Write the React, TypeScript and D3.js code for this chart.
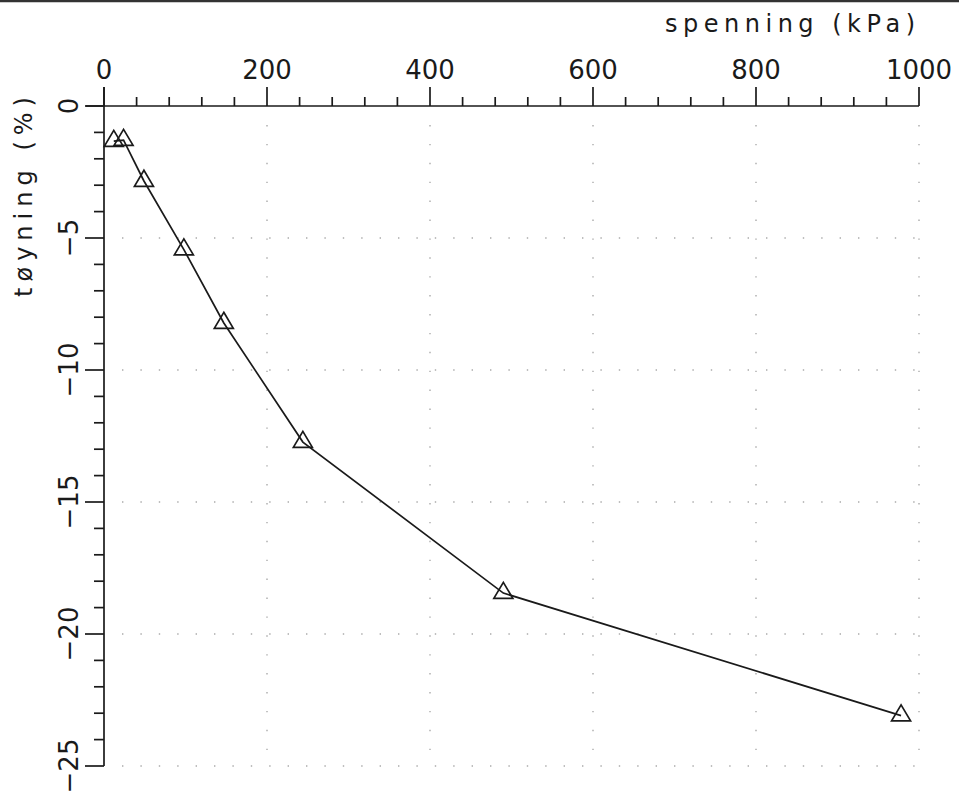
import React from "react";
import * as d3 from "d3";

const stress = [12, 24, 49, 98, 147, 244, 490, 978];
const strain = [-1.33, -1.29, -2.84, -5.44, -8.22, -12.73, -18.45, -23.09];
const xTickValues = [0, 200, 400, 600, 800, 1000];
const yTickValues = [0, -5, -10, -15, -20, -25];
const xTitle = "spenning (kPa)";
const yTitle = "tøyning (%)";

const W = 959;
const H = 797;

export default function App() {
  const x = d3.scaleLinear().domain([0, 1000]).range([104, 919]);
  const y = d3.scaleLinear().domain([0, -25]).range([106, 766]);
  const fmt = d3.format("d");
  const pts = stress.map((s, i) => [x(s), y(strain[i])] as [number, number]);
  const line = d3.line()(pts) || "";
  const xMinor = d3.range(0, 1001, 40);
  const yMinor = d3.range(0, -26, -1);
  const font = "DejaVu Sans, sans-serif";
  const ink = "#1a1a1a";
  const tri = "M0,-10.7 L9.5,5.3 L-9.5,5.3 Z";
  return (
    <svg
      width={W}
      height={H}
      style={{ position: "absolute", left: 0, top: 0, background: "#fff" }}
    >
      <rect x={0} y={0} width={W} height={H} fill="#fff" />
      <line x1={0} x2={W} y1={1} y2={1} stroke="#333" strokeWidth={2.5} />
      {/* grid */}
      {xTickValues.slice(1).map((v) => (
        <line
          key={"gx" + v}
          x1={x(v)}
          x2={x(v)}
          y1={y(0) + 19}
          y2={y(-25)}
          stroke="#aaa"
          strokeWidth={1.4}
          strokeDasharray="1.4 17.5"
        />
      ))}
      {yTickValues.slice(1).map((v) => (
        <line
          key={"gy" + v}
          x1={x(0) + 18}
          x2={x(1000)}
          y1={y(v)}
          y2={y(v)}
          stroke="#aaa"
          strokeWidth={1.4}
          strokeDasharray="1.4 17"
        />
      ))}
      {/* x axis */}
      <line x1={86} x2={x(1000)} y1={y(0)} y2={y(0)} stroke={ink} strokeWidth={1.7} />
      {xMinor.map((v) => {
        const major = v % 200 === 0;
        return (
          <line
            key={"xt" + v}
            x1={x(v)}
            x2={x(v)}
            y1={y(0)}
            y2={y(0) - (major ? 19 : 9)}
            stroke={ink}
            strokeWidth={1.7}
          />
        );
      })}
      {xTickValues.map((v) => (
        <text
          key={"xl" + v}
          x={x(v)}
          y={79}
          textAnchor="middle"
          fontFamily={font}
          fontSize={26}
          fill={ink}
        >
          {fmt(v)}
        </text>
      ))}
      <text
        x={915}
        y={32}
        textAnchor="end"
        fontFamily={font}
        fontSize={24}
        fill={ink}
        textLength={250}
        lengthAdjust="spacing"
      >
        {xTitle}
      </text>
      {/* y axis */}
      <line x1={x(0)} x2={x(0)} y1={87} y2={y(-25)} stroke={ink} strokeWidth={1.7} />
      {yMinor.map((v) => {
        const major = v % 5 === 0;
        return (
          <line
            key={"yt" + v}
            x1={x(0)}
            x2={x(0) - (major ? 19 : 10)}
            y1={y(v)}
            y2={y(v)}
            stroke={ink}
            strokeWidth={1.7}
          />
        );
      })}
      {yTickValues.map((v) => (
        <text
          key={"yl" + v}
          transform={`translate(78,${y(v)}) rotate(-90)`}
          textAnchor="middle"
          fontFamily={font}
          fontSize={26}
          fill={ink}
        >
          {fmt(v)}
        </text>
      ))}
      <text
        transform={`translate(32,197) rotate(-90)`}
        textAnchor="middle"
        fontFamily={font}
        fontSize={24}
        fill={ink}
        textLength={200}
        lengthAdjust="spacing"
      >
        {yTitle}
      </text>
      {/* data */}
      <path d={line} fill="none" stroke={ink} strokeWidth={1.7} />
      {pts.map(([px, py], i) => (
        <path
          key={"p" + i}
          d={tri}
          transform={`translate(${px},${py})`}
          fill="none"
          stroke={ink}
          strokeWidth={1.7}
        />
      ))}
    </svg>
  );
}
